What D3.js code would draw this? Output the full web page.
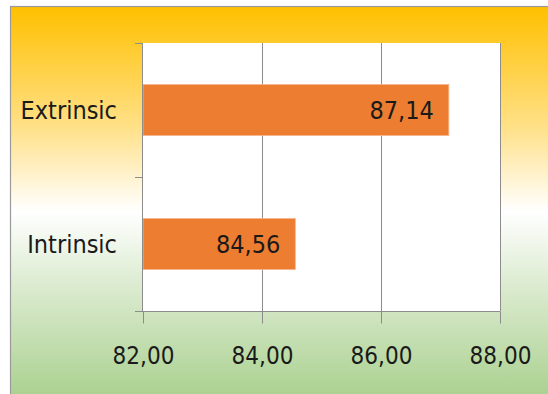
<!DOCTYPE html>
<html>
<head>
<meta charset="utf-8">
<script src="https://cdn.jsdelivr.net/npm/d3@7"></script>
<style>
  html, body { margin: 0; padding: 0; background: #fff; }
  svg { display: block; }
</style>
</head>
<body>
<svg id="chart"></svg>
<script>
const categories = ["Extrinsic", "Intrinsic"];
const values = [87.14, 84.56];
const xTicks = [82, 84, 86, 88];

const width = 548;
const height = 394;
const plot = { left: 143, right: 500, top: 43, bottom: 311 };
const fontFamily = "'DejaVu Sans Condensed', 'DejaVu Sans', sans-serif";

const svg = d3.select("#chart")
  .attr("width", width)
  .attr("height", height);

const defs = svg.append("defs");
const grad = defs.append("linearGradient")
  .attr("id", "bg")
  .attr("x1", 0).attr("y1", 0)
  .attr("x2", 0).attr("y2", 1);
grad.append("stop").attr("offset", "0%").attr("stop-color", "#ffc000");
grad.append("stop").attr("offset", "30%").attr("stop-color", "#ffe085");
grad.append("stop").attr("offset", "52%").attr("stop-color", "#ffffff");
grad.append("stop").attr("offset", "70%").attr("stop-color", "#ddecd2");
grad.append("stop").attr("offset", "100%").attr("stop-color", "#a9d08e");

// chart area with gradient
svg.append("rect")
  .attr("x", 10.5)
  .attr("y", 6.5)
  .attr("width", width)
  .attr("height", height)
  .attr("fill", "url(#bg)")
  .attr("stroke", "#9a9a9a")
  .attr("stroke-width", 1.2);

// plot area
svg.append("rect")
  .attr("x", plot.left)
  .attr("y", plot.top)
  .attr("width", plot.right - plot.left)
  .attr("height", plot.bottom - plot.top)
  .attr("fill", "#ffffff");

const xScale = d3.scaleLinear()
  .domain([82, 88])
  .range([plot.left, plot.right]);

const yScale = d3.scaleBand()
  .domain(categories)
  .range([plot.top, plot.bottom])
  .paddingInner(0.62)
  .paddingOuter(0.31);

// vertical gridlines
svg.append("g")
  .selectAll("line")
  .data(xTicks.slice(1))
  .enter()
  .append("line")
  .attr("x1", d => Math.round(xScale(d)) + 0.5)
  .attr("x2", d => Math.round(xScale(d)) + 0.5)
  .attr("y1", plot.top)
  .attr("y2", plot.bottom)
  .attr("stroke", "#8c8c8c")
  .attr("stroke-width", 1);

// bars
svg.append("g")
  .selectAll("rect")
  .data(values)
  .enter()
  .append("rect")
  .attr("x", xScale(82))
  .attr("y", (d, i) => yScale(categories[i]))
  .attr("width", d => xScale(d) - xScale(82))
  .attr("height", yScale.bandwidth())
  .attr("fill", "#ed7d31")
  .attr("stroke", "#f6b48a")
  .attr("stroke-width", 0.8);

// value labels
svg.append("g")
  .selectAll("text")
  .data(values)
  .enter()
  .append("text")
  .attr("x", d => xScale(d) - 15)
  .attr("y", (d, i) => yScale(categories[i]) + yScale.bandwidth() / 2)
  .attr("dy", "0.36em")
  .attr("font-family", fontFamily)
  .attr("font-size", 25)
  .attr("fill", "#1a1a1a")
  .style("text-anchor", "end")
  .text(d => d3.format(".2f")(d).replace(".", ","));

// x axis
const xAxis = d3.axisBottom(xScale)
  .tickValues(xTicks)
  .tickSize(12)
  .tickPadding(23)
  .tickSizeOuter(0)
  .tickFormat(d => d3.format(".2f")(d).replace(".", ","));

const gx = svg.append("g")
  .attr("transform", "translate(0," + (plot.bottom + 0.5) + ")")
  .call(xAxis);
gx.select(".domain").attr("stroke", "#8c8c8c").attr("d", "M" + (plot.left - 8) + ",0H" + plot.right);
gx.selectAll(".tick line").attr("stroke", "#8c8c8c");
gx.selectAll(".tick text")
  .attr("font-family", fontFamily)
  .attr("font-size", 24)
  .attr("fill", "#1a1a1a");

// y axis line with category boundary ticks
const boundaries = [plot.top, (plot.top + plot.bottom) / 2, plot.bottom];
svg.append("line")
  .attr("x1", plot.left - 0.5)
  .attr("x2", plot.left - 0.5)
  .attr("y1", plot.top)
  .attr("y2", plot.bottom)
  .attr("stroke", "#8c8c8c");
svg.append("g")
  .selectAll("line")
  .data(boundaries)
  .enter()
  .append("line")
  .attr("x1", plot.left - 8)
  .attr("x2", plot.left)
  .attr("y1", d => Math.round(d) + 0.5)
  .attr("y2", d => Math.round(d) + 0.5)
  .attr("stroke", "#8c8c8c");

// category labels
svg.append("g")
  .selectAll("text")
  .data(categories)
  .enter()
  .append("text")
  .attr("x", plot.left - 26)
  .attr("y", d => yScale(d) + yScale.bandwidth() / 2)
  .attr("dy", "0.36em")
  .attr("font-family", fontFamily)
  .attr("font-size", 25)
  .attr("fill", "#1a1a1a")
  .style("text-anchor", "end")
  .text(d => d);
</script>
</body>
</html>
